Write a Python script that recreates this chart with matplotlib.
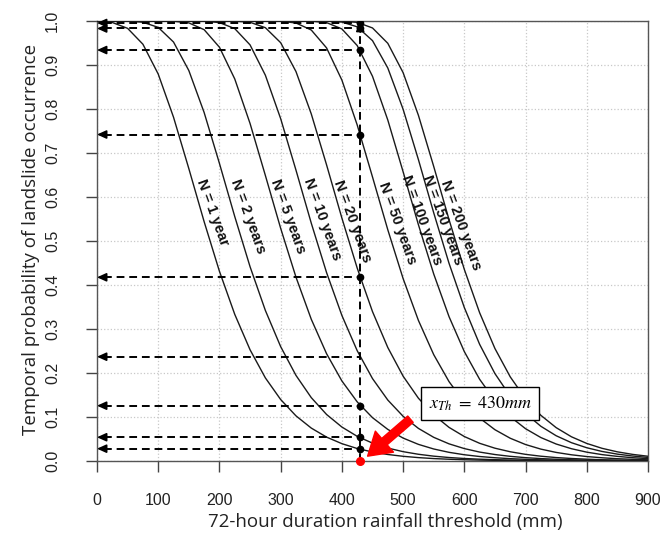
import matplotlib
matplotlib.use("Agg")
import matplotlib.pyplot as plt
import numpy as np

plt.rcParams["mathtext.fontset"] = "stix"

# 72-hour rainfall threshold (mm), read every 25 mm
rain_mm = list(range(0, 925, 25))

# temporal probability of landslide occurrence, one list per return period N
prob_n1 = [0.9996, 0.9966, 0.9833, 0.9472, 0.8794, 0.7813, 0.6645, 0.5439, 0.4311, 0.3333,
           0.2528, 0.1889, 0.1397, 0.1026, 0.0748, 0.0543, 0.0394, 0.0284, 0.0205, 0.0148,
           0.0107, 0.0077, 0.0055, 0.0040, 0.0029, 0.0021, 0.0015, 0.0011, 0.0008, 0.0005,
           0.0004, 0.0003, 0.0002, 0.0001, 0.0001, 0.0001, 0.0001]
prob_n2 = [1.0, 1.0, 0.9997, 0.9972, 0.9855, 0.9522, 0.8874, 0.7920, 0.6763, 0.5556,
           0.4416, 0.3422, 0.2599, 0.1946, 0.1440, 0.1057, 0.0772, 0.0561, 0.0406, 0.0294,
           0.0212, 0.0153, 0.0110, 0.0079, 0.0057, 0.0041, 0.0030, 0.0021, 0.0015, 0.0011,
           0.0008, 0.0006, 0.0004, 0.0003, 0.0002, 0.0002, 0.0001]
prob_n5 = [1.0] * 5 + [0.9995, 0.9957, 0.9803, 0.9404, 0.8683,
           0.7671, 0.6490, 0.5288, 0.4179, 0.3221, 0.2438, 0.1819, 0.1344, 0.0985, 0.0718,
           0.0521, 0.0378, 0.0273, 0.0197, 0.0142, 0.0102, 0.0074, 0.0053, 0.0038, 0.0027,
           0.0020, 0.0014, 0.0010, 0.0007, 0.0005, 0.0004, 0.0003]
prob_n10 = [1.0] * 7 + [0.9996, 0.9964, 0.9827,
            0.9457, 0.8768, 0.7780, 0.6611, 0.5405, 0.4281, 0.3308, 0.2507, 0.1873, 0.1385,
            0.1016, 0.0741, 0.0538, 0.0390, 0.0282, 0.0203, 0.0147, 0.0106, 0.0076, 0.0055,
            0.0039, 0.0028, 0.0020, 0.0015, 0.0011, 0.0008, 0.0005]
prob_n20 = [1.0] * 9 + [0.9997,
            0.9971, 0.9848, 0.9507, 0.8851, 0.7888, 0.6729, 0.5521, 0.4385, 0.3395, 0.2579,
            0.1928, 0.1427, 0.1048, 0.0764, 0.0556, 0.0402, 0.0291, 0.0210, 0.0151, 0.0109,
            0.0078, 0.0057, 0.0041, 0.0029, 0.0021, 0.0015, 0.0011]
prob_n50 = [1.0] * 12 + [0.9995, 0.9955, 0.9795, 0.9388, 0.8657, 0.7638, 0.6455, 0.5255,
            0.4146, 0.3195, 0.2417, 0.1804, 0.1332, 0.0976, 0.0711, 0.0517, 0.0374, 0.0270,
            0.0195, 0.0141, 0.0101, 0.0073, 0.0052, 0.0038, 0.0027]
prob_n100 = [1.0] * 14 + [0.9996, 0.9963, 0.9820, 0.9442, 0.8743, 0.7749,
             0.6573, 0.5370, 0.4250, 0.3281, 0.2486, 0.1857, 0.1372, 0.1007, 0.0734, 0.0533,
             0.0386, 0.0279, 0.0201, 0.0145, 0.0105, 0.0075, 0.0054]
prob_n150 = [1.0] * 15 + [0.9998, 0.9976, 0.9868, 0.9554, 0.8932,
             0.7994, 0.6850, 0.5640, 0.4493, 0.3487, 0.2651, 0.1986, 0.1472, 0.1081, 0.0789,
             0.0574, 0.0416, 0.0301, 0.0217, 0.0156, 0.0113, 0.0081]
prob_n200 = [1.0] * 16 + [0.9997, 0.9969, 0.9842, 0.9493,
             0.8826, 0.7856, 0.6694, 0.5486, 0.4354, 0.3369, 0.2556, 0.1912, 0.1414, 0.1038,
             0.0758, 0.0550, 0.0399, 0.0288, 0.0208, 0.0150, 0.0108]

curves = [prob_n1, prob_n2, prob_n5, prob_n10, prob_n20,
          prob_n50, prob_n100, prob_n150, prob_n200]
curve_labels = ["N = 1 year", "N = 2 years", "N = 5 years", "N = 10 years", "N = 20 years",
                "N = 50 years", "N = 100 years", "N = 150 years", "N = 200 years"]
label_x = [188, 247, 312, 368, 417, 490, 531, 564, 595]
label_y = [0.566, 0.557, 0.555, 0.55, 0.545, 0.541, 0.548, 0.548, 0.536]

# threshold and the probabilities read at it
x_threshold = 430
prob_at_threshold = [0.9955, 0.983, 0.934, 0.742, 0.4175, 0.237, 0.1257, 0.054, 0.028]
has_dot = [True, True, True, True, True, False, True, True, True]


def main():
    figure = plt.figure(figsize=(6.62, 5.43), dpi=100)
    axes = figure.add_axes([97 / 662, 82 / 543, 551 / 662, 440 / 543])

    for probs in curves:
        axes.plot(rain_mm, probs, color="#1a1a1a", lw=1.0, zorder=3)

    for text, lx, ly in zip(curve_labels, label_x, label_y):
        axes.text(lx, ly, text, rotation=-70, rotation_mode="anchor",
                  ha="center", va="center", fontsize=10.5, fontweight="bold",
                  family="Liberation Sans", color="#111111", zorder=4)

    # dashed read-off lines
    for y, dot in zip(prob_at_threshold, has_dot):
        axes.plot([12, x_threshold], [y, y], color="black", lw=1.4,
                  ls=(0, (4, 2.5)), zorder=4)
        axes.annotate("", xy=(0, y), xytext=(14, y),
                      arrowprops=dict(arrowstyle="-|>,head_length=0.55,head_width=0.25",
                                      color="black", lw=1.2, shrinkA=0, shrinkB=0),
                      zorder=5)
        if dot:
            axes.plot(x_threshold, y, "o", color="black", ms=4.5, zorder=5)
    axes.plot([x_threshold, x_threshold], [0, 0.985], color="black", lw=1.4,
              ls=(0, (4, 2.5)), zorder=4)
    axes.annotate("", xy=(x_threshold, 0.998), xytext=(x_threshold, 0.975),
                  arrowprops=dict(arrowstyle="-|>,head_length=0.55,head_width=0.25",
                                  color="black", lw=1.2, shrinkA=0, shrinkB=0), zorder=5)

    axes.plot(x_threshold, 0, "o", color="red", ms=5.5, clip_on=False, zorder=6)
    axes.annotate("", xy=(442, 0.011), xytext=(512, 0.095),
                  arrowprops=dict(arrowstyle="simple,head_length=1.6,head_width=2.0,tail_width=0.6",
                                  fc="red", ec="red", mutation_scale=10,
                                  shrinkA=0, shrinkB=0), zorder=6)
    axes.text(626, 0.1307, r"$x_{Th}\ =\ 430mm$", fontsize=13, ha="center", va="center",
              bbox=dict(boxstyle="square,pad=0.4", fc="white", ec="black", lw=1.0),
              zorder=7)

    axes.set_xlim(0, 900)
    axes.set_ylim(0, 1)
    axes.set_xticks(range(0, 1000, 100))
    axes.set_yticks(np.round(np.arange(0, 1.01, 0.1), 1))
    axes.set_yticklabels([f"{v:.1f}" for v in np.arange(0, 1.01, 0.1)])
    axes.grid(True, ls=":", color="#c8c8c8", lw=0.9)
    axes.set_axisbelow(True)
    for spine in axes.spines.values():
        spine.set_color("#555555")
        spine.set_linewidth(1.0)
    axes.tick_params(direction="out", length=8, width=1.0, color="#444444", labelsize=11.5)
    axes.tick_params(axis="x", pad=15)
    axes.tick_params(axis="y", pad=18.5)
    for lab in axes.get_xticklabels() + axes.get_yticklabels():
        lab.set_family("Liberation Sans")
        lab.set_color("#222222")
    for lab in axes.get_yticklabels():
        lab.set_rotation(90)
        lab.set_va("center")

    axes.set_xlabel("72-hour duration rainfall threshold (mm)", family="Open Sans",
                    fontsize=13.5, color="#222222")
    axes.set_ylabel("Temporal probability of landslide occurrence", family="Open Sans",
                    fontsize=13.5, color="#222222")
    axes.xaxis.set_label_coords(0.524, (461 - 522) / 440)
    axes.yaxis.set_label_coords((31.5 - 97) / 551, 0.503)
    axes.xaxis.label.set_va("center")
    axes.yaxis.label.set_va("center")

    figure.savefig("out.png", dpi=100)


if __name__ == "__main__":
    main()
